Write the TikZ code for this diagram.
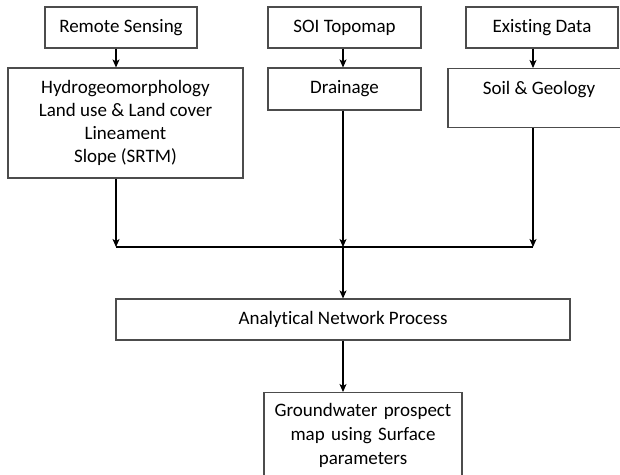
\documentclass[tikz,border=0pt]{standalone}
\usepackage{fontspec}
\setmainfont{Carlito}[Ligatures={NoCommon}]
\usetikzlibrary{arrows.meta}

\begin{document}
\begin{tikzpicture}[x=1pt, y=-1pt, >={Stealth[length=8pt,width=7pt,inset=2pt]},
  box/.style={draw=black!70, line width=1.1pt, inner sep=0pt, align=center,
    font=\fontsize{19}{23}\selectfont},
  link/.style={->, line width=1.1pt}]
  \useasboundingbox (0,0) rectangle (620,474);
  \clip (0,0) rectangle (620,474);

  \node[box, minimum width=152pt, minimum height=41pt] (rs) at (121,27.5) {Remote Sensing};
  \node[box, minimum width=153pt, minimum height=41pt] (soi) at (344.5,27.5) {SOI Topomap};
  \node[box, minimum width=152pt, minimum height=41pt] (ex) at (542,27.5) {Existing Data};

  \node[box, minimum width=235pt, minimum height=110pt] (hydro) at (125.5,123)
    {Hydrogeomorphology\\Land use \& Land cover\\Lineament\\Slope (SRTM)};
  \node[box, minimum width=153pt, minimum height=42pt] (drain) at (344.5,89) {Drainage};
  \node[box, minimum width=182pt, text height=26pt, text depth=33pt, anchor=north] (soil) at (539,68)
    {Soil \& Geology};

  \node[box, minimum width=454pt, minimum height=41pt] (anp) at (343,319.5) {Analytical Network Process};
  \node[box, text width=198pt, text height=24pt, text depth=70pt, anchor=north] (gw) at (363,392)
    {Groundwater prospect\\[1pt]map using Surface\\[1pt]parameters};

  \coordinate (lx) at (116,0);
  \coordinate (mx) at (343,0);
  \coordinate (rx) at (533,0);
  \coordinate (busl) at (116,247);
  \coordinate (busr) at (533,247);

  \draw[line width=1.1pt] (busl) -- (busr);
  \path[link]
  (rs.south -| lx) edge (hydro.north -| lx)
  (soi.south -| mx) edge (drain.north -| mx)
  (ex.south -| rx) edge (soil.north -| rx)
  (hydro.south -| lx) edge (busl)
  (drain.south -| mx) edge (busl -| mx)
  (soil.south -| rx) edge (busr)
  (busl -| mx) edge (anp.north)
  (anp.south) edge (gw.north -| mx)
  ;
\end{tikzpicture}
\end{document}
